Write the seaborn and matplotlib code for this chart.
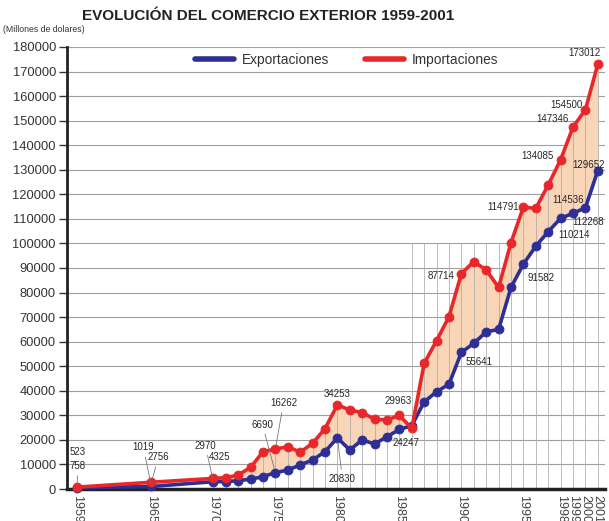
import matplotlib
matplotlib.use("Agg")
import matplotlib.pyplot as plt
import seaborn as sns
import pandas as pd
from matplotlib.lines import Line2D

# ---------------- data ----------------
years = [1959, 1965, 1970, 1971, 1972, 1973, 1974, 1975, 1976, 1977, 1978, 1979,
         1980, 1981, 1982, 1983, 1984, 1985, 1986, 1987, 1988, 1989, 1990, 1991,
         1992, 1993, 1994, 1995, 1996, 1997, 1998, 1999, 2000, 2001]
exports = [523, 1019, 2970, 3000, 3400, 4000, 5000, 6690, 7700, 9800, 11800, 15200,
           20830, 15900, 20000, 18300, 21300, 24247, 25800, 35500, 39600, 42700,
           55641, 59300, 64000, 65000, 82100, 91582, 98900, 104800, 110214, 112268,
           114536, 129652]
imports = [758, 2756, 4325, 4600, 5700, 8800, 15200, 16262, 17200, 15000, 18600, 24600,
           34253, 32200, 31100, 28400, 28100, 29963, 24700, 51200, 60400, 70200,
           87714, 92600, 89200, 82100, 100300, 114791, 114300, 123800, 134085, 147346,
           154500, 173012]
xtick_years = [1959, 1965, 1970, 1975, 1980, 1985, 1990, 1995, 1998, 1999, 2000, 2001]
ytick_values = list(range(0, 180001, 10000))
series_names = ["Exportaciones", "Importaciones"]
title_text = "EVOLUCIÓN DEL COMERCIO EXTERIOR 1959-2001"
unit_text = "(Millones de dolares)"

# labelled points: (year, series)
label_points = [(1959, "exp"), (1959, "imp"), (1965, "exp"), (1965, "imp"),
                (1970, "exp"), (1970, "imp"), (1975, "exp"), (1975, "imp"),
                (1980, "imp"), (1980, "exp"), (1985, "imp"), (1985, "exp"),
                (1990, "imp"), (1990, "exp"), (1995, "imp"), (1995, "exp"),
                (1998, "imp"), (1998, "exp"), (1999, "imp"), (1999, "exp"),
                (2000, "imp"), (2000, "exp"), (2001, "imp"), (2001, "exp")]
# layout: label offsets in pixels (x right, y up) and leader flags
label_offsets = [(1, 36), (1, 21), (-8, 39), (7, 25),
                 (-8, 36), (6, 21), (-13, 48), (8, 46),
                 (0, 11), (5, -41), (-1, 14), (7, -14),
                 (-20, -2), (18, -10), (-20, 0), (18, -14),
                 (-23, 4), (13, -17), (-21, 8), (15, -9),
                 (-19, 5), (-17, 8), (-13, 11), (-9, 6)]
leaders = [False, True, True, True,
           True, False, True, True,
           False, True, False, False,
           False, False, False, False,
           False, False, False, False,
           False, False, False, False]

# ---------------- style ----------------
sns.set_style("white")
plt.rcParams["font.family"] = ["Liberation Sans", "DejaVu Sans"]

BLUE = "#2d2f96"
RED = "#e8272b"
FILL = "#f8d5b6"

W, H = 609, 521
fig = plt.figure(figsize=(W / 100, H / 100), dpi=100)
ax = fig.add_axes([67 / W, 32 / H, (605 - 67) / W, (489 - 47) / H])

df = pd.DataFrame({"year": years, "exp": exports, "imp": imports})

# horizontal grid
for v in ytick_values[1:]:
    ax.axhline(v, color="#a0a0a0", lw=0.8, zorder=0)

# fill between series
ax.fill_between(df["year"], df["exp"], df["imp"], color=FILL, zorder=1, lw=0)

# vertical lines at every year from 1970
for yr, e, i in zip(years, exports, imports):
    if yr < 1970:
        continue
    top = max(e, i)
    if yr >= 1986:
        top = max(top, 100000)
    ax.vlines(yr, 0, top, color="#ababab", lw=0.55, zorder=1.5)

sns.lineplot(data=df, x="year", y="exp", ax=ax, color=BLUE, lw=2.6, marker="o",
             markersize=6.3, markeredgecolor=BLUE, markerfacecolor=BLUE,
             zorder=3, clip_on=False)
sns.lineplot(data=df, x="year", y="imp", ax=ax, color=RED, lw=2.6, marker="o",
             markersize=6.3, markeredgecolor=RED, markerfacecolor=RED,
             zorder=4, clip_on=False)

# value labels
for (yr, s), (dx, dy), lead in zip(label_points, label_offsets, leaders):
    val = df.loc[df["year"] == yr, s].iloc[0]
    kw = {}
    if lead:
        kw["arrowprops"] = dict(arrowstyle="-", color="#777777", lw=0.6,
                                shrinkA=1, shrinkB=3)
    ax.annotate(f"{val}", xy=(yr, val), xytext=(dx, dy), textcoords="offset pixels",
                ha="center", va="center", fontsize=7.0, color="#262626", zorder=6, **kw)

# axes
ax.set_xlim(1959 - 10 / 12.4, 1959 + (605 - 77) / 12.4)
ax.set_ylim(0, 180000)
ax.set_yticks(ytick_values)
ax.set_yticklabels([str(v) for v in ytick_values], fontsize=9.3, color="#333333")
ax.set_xticks(xtick_years)
ax.set_xticklabels([str(y) for y in xtick_years], rotation=-90, fontsize=9,
                   color="#444444", va="top", ha="center")
ax.tick_params(axis="y", length=6, width=1, color="#333333", pad=2, left=True)
ax.tick_params(axis="x", length=0, pad=4)
ax.set_xlabel("")
ax.set_ylabel("")
for sp in ["top", "right"]:
    ax.spines[sp].set_visible(False)
ax.spines["left"].set_linewidth(2)
ax.spines["left"].set_color("#222222")
ax.spines["bottom"].set_linewidth(2.5)
ax.spines["bottom"].set_color("#222222")

# legend
handles = [Line2D([0], [0], color=BLUE, lw=4), Line2D([0], [0], color=RED, lw=4)]
leg = ax.legend(handles, series_names, ncol=2, loc="center",
                bbox_to_anchor=((347 - 67) / 538, (489 - 60) / 442),
                frameon=False, fontsize=9.9, handlelength=2.8, columnspacing=2.6,
                handletextpad=0.6)
for t in leg.get_texts():
    t.set_color("#333333")

# titles
fig.text(268 / W, 1 - 16 / H, title_text, ha="center", va="center",
         fontsize=11.0, fontweight="bold", color="#222222")
fig.text(3 / W, 1 - 30 / H, unit_text, ha="left", va="center",
         fontsize=6.3, color="#333333")

fig.savefig("out.png", dpi=100)
